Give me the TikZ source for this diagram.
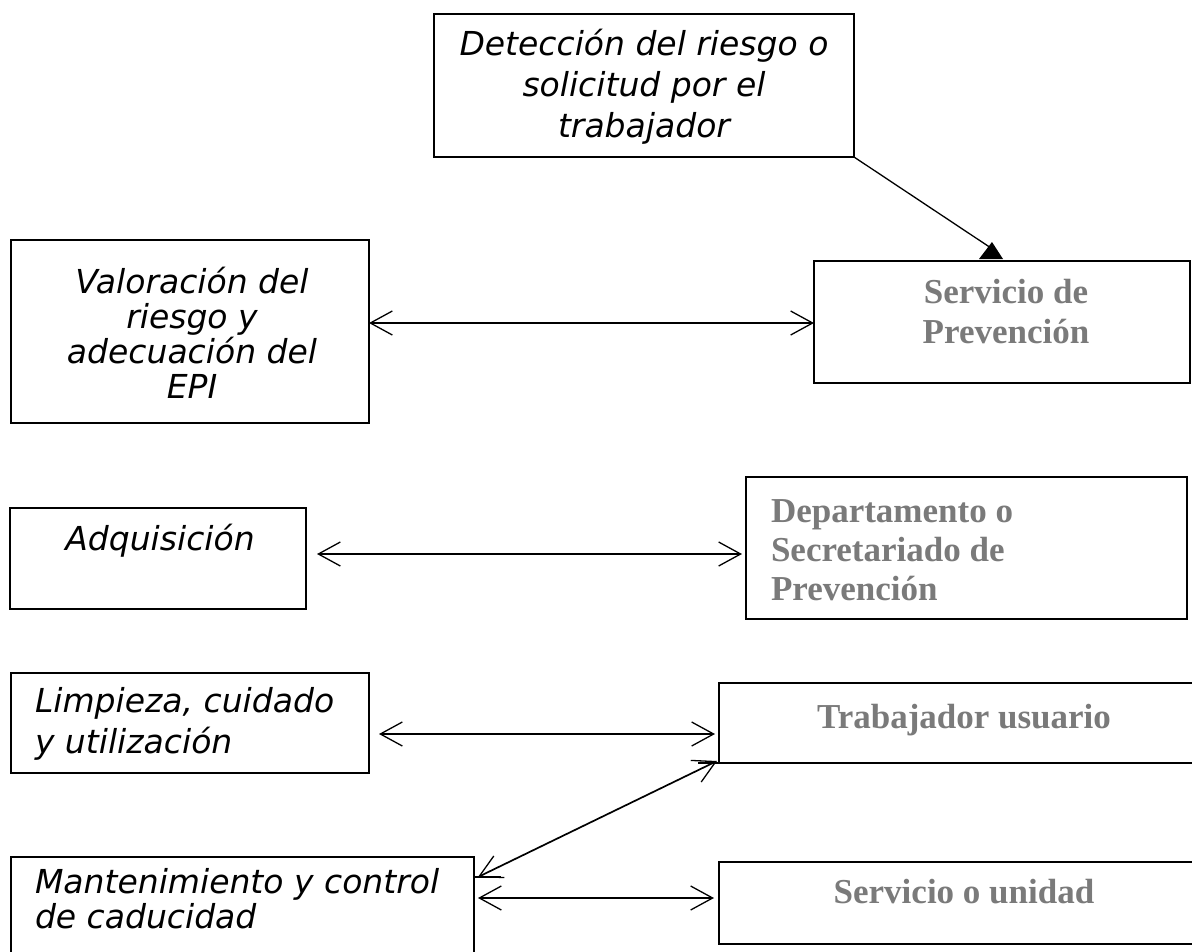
\documentclass[tikz,border=0pt]{standalone}
\usepackage{fontspec}
\usetikzlibrary{arrows.meta,calc}
\newfontfamily\lfont{DejaVu Sans}
\newfontfamily\rfont{Liberation Serif}
\definecolor{txtgray}{HTML}{7A7A7A}
\begin{document}
\begin{tikzpicture}[x=1pt,y=-1pt,
  box/.style={draw, line width=2.2pt, anchor=north west, inner sep=0pt, outer sep=0pt},
  ltext/.style={font=\lfont\itshape\fontsize{33}{41}\selectfont, inner sep=0pt, outer sep=0pt},
  rtext/.style={font=\rfont\bfseries\fontsize{35}{40}\selectfont, text=txtgray, inner sep=0pt, outer sep=0pt},
  barb/.tip={Straight Barb[length=22pt,width=24pt,line width=1.3pt]},
  dbl/.style={line width=1.7pt, barb-barb},
  link/.style={line width=1.3pt}
]
\useasboundingbox (0,0) rectangle (1192,951);
\clip (0,0) rectangle (1192,951);
\fill[white] (0,0) rectangle (1192,951);

% boxes
\node[box, minimum width=420pt, minimum height=143pt] (det) at (434,14) {};
\node[box, minimum width=358pt, minimum height=183pt] (val) at (11,240) {};
\node[box, minimum width=376pt, minimum height=122pt] (sp) at (814,261) {};
\node[box, minimum width=296pt, minimum height=101pt] (adq) at (10,508) {};
\node[box, minimum width=441pt, minimum height=142pt] (dep) at (746,477) {};
\node[box, minimum width=358pt, minimum height=100pt] (lim) at (11,673) {};
\node[box, minimum width=500pt, minimum height=80pt] (tu) at (719,683) {};
\node[box, minimum width=463pt, minimum height=110pt] (man) at (11,857) {};
\node[box, minimum width=500pt, minimum height=82pt] (su) at (719,862) {};

% texts (anchor=base is the baseline of the last line)
\node[ltext, align=center, anchor=base] (detT) at (644,137) {Detección del riesgo o\\solicitud por el\\trabajador};
\node[ltext, align=center, anchor=base, font=\lfont\itshape\fontsize{33}{35}\selectfont] (valT) at (192,398) {Valoración del\\riesgo y\\adecuación del\\EPI};
\node[ltext, anchor=base] (adqT) at (160,550) {Adquisición};
\node[ltext, align=left, anchor=base west] (limT) at (35,753) {Limpieza, cuidado\\y utilización};
\node[ltext, align=left, anchor=base west, font=\lfont\itshape\fontsize{33}{35}\selectfont] (manT) at (35,928) {Mantenimiento y control\\de caducidad};

\node[rtext, align=center, anchor=base] (spT) at (1006,343) {Servicio de\\Prevención};
\node[rtext, align=left, anchor=base west, font=\rfont\bfseries\fontsize{35}{39}\selectfont] (depT) at (771,600) {Departamento o\\Secretariado de\\Prevención};
\node[rtext, anchor=base] (tuT) at (964,728) {Trabajador usuario};
\node[rtext, anchor=base] (suT) at (964,903) {Servicio o unidad};

% connectors
\coordinate (tipSP) at (991,248);
\draw[link] (det.south east) -- (tipSP);
\fill (992,242) -- (979,259) -- (1003,259) -- cycle;

\draw[dbl] (val.east |- 0,323) -- (sp.west |- 0,323);
\draw[dbl, shorten <=11pt, shorten >=4pt] (adq.east |- 0,554) -- (dep.west |- 0,554);
\draw[dbl, shorten <=10pt, shorten >=4pt] (lim.east |- 0,734) -- (tu.west |- 0,734);
\draw[dbl, shorten <=4pt, shorten >=5pt] (man.east |- 0,898) -- (su.west |- 0,898);
\coordinate (mA) at ($(man.north east)+(4,20)$);
\coordinate (tB) at ($(tu.south west)+(-2,-2)$);
\draw[dbl] (mA) -- (tB);
\draw[link] (man.east |- 0,877) -- ++(27,0);
\draw[link] (tu.south west) -- ++(-21,0);
\end{tikzpicture}
\end{document}
